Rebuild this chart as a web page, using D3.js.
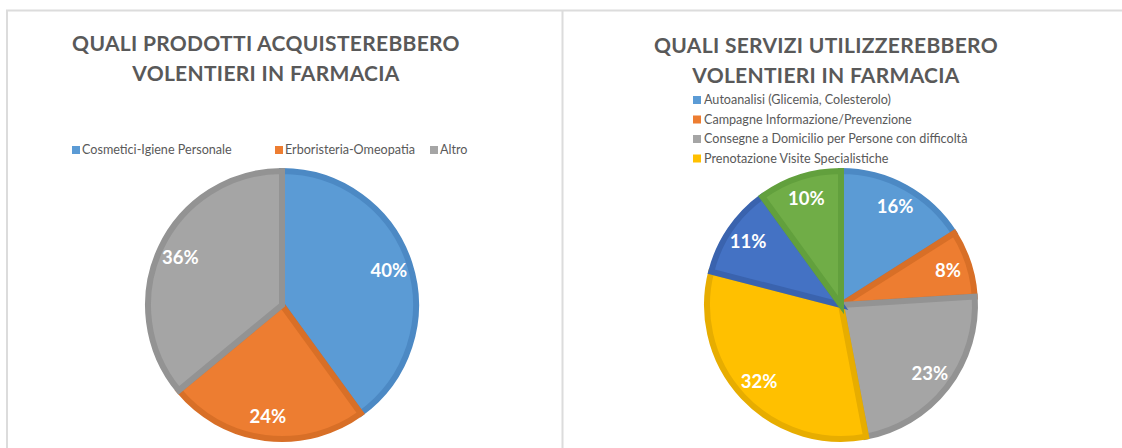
<!DOCTYPE html>
<html lang="it">
<head>
<meta charset="utf-8">
<title>Farmacia - prodotti e servizi</title>
<script src="https://d3js.org/d3.v7.min.js"></script>
<style>
  body { margin: 0; background: #fff; }
  svg { display: block; font-family: Lato, "Open Sans", sans-serif; }
  .title { font-weight: bold; fill: #595959; font-size: 21px; letter-spacing: 0.3px; }
  .legend text { font-size: 12.6px; fill: #595959; }
  .lbl { font-weight: bold; fill: #fff; font-size: 18.5px; }
</style>
</head>
<body>
<div id="chart"></div>
<script>
// chart 1: prodotti
var prodottiNomi = ['Cosmetici-Igiene Personale', 'Erboristeria-Omeopatia', 'Altro'];
var prodottiValori = [40, 24, 36];

// chart 2: servizi (the last two legend entries are cut off in the original)
var serviziNomi = ['Autoanalisi (Glicemia, Colesterolo)', 'Campagne Informazione/Prevenzione',
  'Consegne a Domicilio per Persone con difficoltà', 'Prenotazione Visite Specialistiche',
  'Servizio 5', 'Servizio 6'];
var serviziValori = [16, 8, 23, 32, 11, 10];
var serviziLegenda = 4; // only the first four are visible

var fills   = ['#5b9bd5', '#ed7d31', '#a5a5a5', '#ffc000', '#4472c4', '#70ad47'];
var strokes = ['#4c89c4', '#d86f27', '#939393', '#e7ad00', '#3a63ae', '#62a03d'];

var W = 1122, H = 448;
var svg = d3.select('#chart').append('svg').attr('width', W).attr('height', H);

// panel frames
svg.append('line').attr('x1', 6).attr('x2', W).attr('y1', 10.5).attr('y2', 10.5)
  .attr('stroke', '#dcdcdc').attr('stroke-width', 2);
[7, 562.5].forEach(function(x) {
  svg.append('line').attr('x1', x).attr('x2', x).attr('y1', 10).attr('y2', H)
    .attr('stroke', '#dcdcdc').attr('stroke-width', 2);
});

var radius = 137;

function drawPie(cx, cy, names, values) {
  var pie = d3.pie().sort(null).value(function(d) { return d; });
  var arcs = pie(values);
  var arc = d3.arc().innerRadius(0).outerRadius(radius - 3);
  var labelArc = d3.arc().innerRadius(radius * 0.82).outerRadius(radius * 0.82);
  var g = svg.append('g').attr('transform', 'translate(' + cx + ',' + cy + ')');

  g.selectAll('path').data(arcs).enter().append('path')
    .attr('d', arc)
    .attr('fill', function(d, i) { return fills[i]; })
    .attr('stroke', function(d, i) { return strokes[i]; })
    .attr('stroke-width', 6)
    .attr('stroke-linejoin', 'miter');

  g.selectAll('text.lbl').data(arcs).enter().append('text')
    .attr('class', 'lbl')
    .attr('transform', function(d) { return 'translate(' + labelArc.centroid(d) + ')'; })
    .attr('text-anchor', 'middle')
    .attr('dy', '0.35em')
    .text(function(d) { return d.data + '%'; });
}

function title(cx, y, lines) {
  var t = svg.append('text').attr('class', 'title').attr('text-anchor', 'middle');
  lines.forEach(function(l, i) {
    t.append('tspan').attr('x', cx).attr('y', y + i * 30).text(l);
  });
}

// left chart
title(266, 51, ['QUALI PRODOTTI ACQUISTEREBBERO', 'VOLENTIERI IN FARMACIA']);
var legL = svg.append('g').attr('class', 'legend');
var legX = [72, 275, 430];
prodottiNomi.forEach(function(n, i) {
  var g = legL.append('g').attr('transform', 'translate(' + legX[i] + ',150)');
  g.append('rect').attr('x', 0).attr('y', -4).attr('width', 8).attr('height', 8).attr('fill', fills[i]);
  g.append('text').attr('x', 10).attr('dy', '0.35em').text(n);
});
drawPie(282, 305, prodottiNomi, prodottiValori);

// right chart
title(826, 53, ['QUALI SERVIZI UTILIZZEREBBERO', 'VOLENTIERI IN FARMACIA']);
var legR = svg.append('g').attr('class', 'legend');
serviziNomi.slice(0, serviziLegenda).forEach(function(n, i) {
  var g = legR.append('g').attr('transform', 'translate(693,' + (100 + i * 19.5) + ')');
  g.append('rect').attr('x', 0).attr('y', -4).attr('width', 8).attr('height', 8).attr('fill', fills[i]);
  g.append('text').attr('x', 11).attr('dy', '0.35em').text(n);
});
drawPie(841, 305, serviziNomi, serviziValori);
</script>
</body>
</html>
